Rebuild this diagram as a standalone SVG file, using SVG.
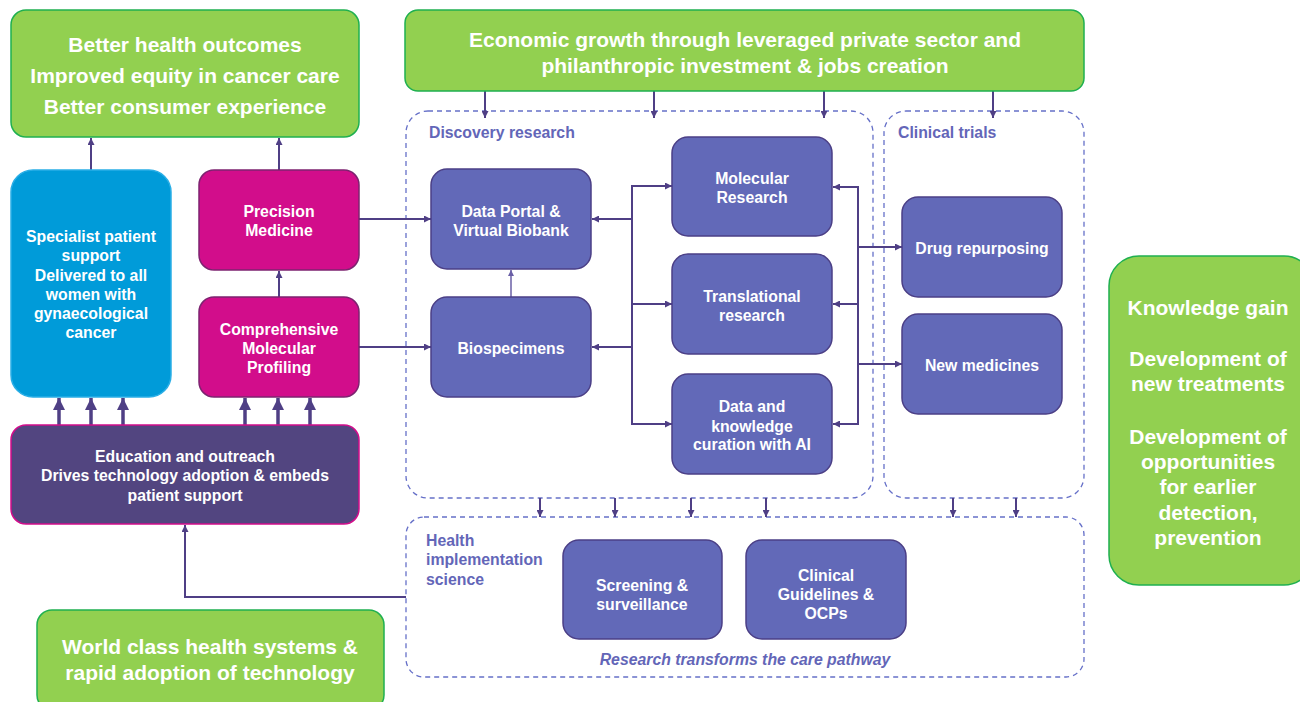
<svg xmlns="http://www.w3.org/2000/svg" width="1300" height="702" viewBox="0 0 1300 702">
  <defs>
    <style>
      .goal { fill: #92d050; stroke: #1fb050; stroke-width: 1.5; }
      .blue { fill: #009bd9; stroke: #2aaee6; stroke-width: 1.5; }
      .mag { fill: #d20d8b; stroke: #7d2370; stroke-width: 1.5; }
      .edu { fill: #524580; stroke: #d20d8b; stroke-width: 1.5; }
      .node { fill: #6269b8; stroke: #4b3f86; stroke-width: 1.5; }
      .zone { fill: none; stroke: #6670c8; stroke-width: 1.3; stroke-dasharray: 5 4; }
      .big { font-family: "Liberation Sans", Arial, sans-serif; font-weight: bold; font-size: 21px; fill: #ffffff; text-anchor: middle; }
      .txt { font-family: "Liberation Sans", Arial, sans-serif; font-weight: bold; font-size: 15.8px; fill: #ffffff; text-anchor: middle; }
      .lbl { font-family: "Liberation Sans", Arial, sans-serif; font-weight: bold; font-size: 15.8px; fill: #6366b8; }
      .lbl-i { font-family: "Liberation Sans", Arial, sans-serif; font-weight: bold; font-style: italic; font-size: 15.8px; fill: #6366b8; text-anchor: middle; }
      .wire { fill: none; stroke: #4f3f85; stroke-width: 2; }
      .thin { fill: none; stroke: #6a5fa6; stroke-width: 1.5; }
      .thick { fill: none; stroke: #4f3f85; stroke-width: 3.5; }
    </style>
    <marker id="ah" viewBox="0 0 10 10" refX="10" refY="5" markerWidth="7" markerHeight="7" markerUnits="userSpaceOnUse" orient="auto">
      <path d="M0,0 L10,5 L0,10 z" fill="#4f3f85"/>
    </marker>
    <marker id="ahs" viewBox="0 0 10 10" refX="10" refY="5" markerWidth="6" markerHeight="6" markerUnits="userSpaceOnUse" orient="auto">
      <path d="M0,0 L10,5 L0,10 z" fill="#6a5fa6"/>
    </marker>
    <marker id="ahb" viewBox="0 0 10 10" refX="10" refY="5" markerWidth="12" markerHeight="12" markerUnits="userSpaceOnUse" orient="auto">
      <path d="M0,0 L10,5 L0,10 z" fill="#4f3f85"/>
    </marker>
  </defs>

  <!-- dashed zones -->
  <g id="zones">
    <rect class="zone" x="406" y="111" width="467" height="387" rx="22"/>
    <text class="lbl" x="429" y="137.5">Discovery research</text>
    <rect class="zone" x="884" y="111" width="200" height="387" rx="22"/>
    <text class="lbl" x="898" y="137.5">Clinical trials</text>
    <rect class="zone" x="406" y="517" width="678" height="160" rx="18"/>
    <text class="lbl" x="426" y="545.5">Health</text>
    <text class="lbl" x="426" y="564.5">implementation</text>
    <text class="lbl" x="426" y="584.5">science</text>
    <text class="lbl-i" x="745" y="664.5">Research transforms the care pathway</text>
  </g>

  <!-- connectors -->
  <g id="connectors">
    <!-- outcomes -->
    <line class="wire" x1="91" y1="170" x2="91" y2="138" marker-end="url(#ah)"/>
    <line class="wire" x1="279" y1="170" x2="279" y2="138" marker-end="url(#ah)"/>
    <line class="wire" x1="279" y1="297" x2="279" y2="271" marker-end="url(#ah)"/>
    <!-- economic growth feeds -->
    <line class="wire" x1="485" y1="91" x2="485" y2="118" marker-end="url(#ah)"/>
    <line class="wire" x1="654" y1="91" x2="654" y2="118" marker-end="url(#ah)"/>
    <line class="wire" x1="824" y1="91" x2="824" y2="118" marker-end="url(#ah)"/>
    <line class="wire" x1="993" y1="91" x2="993" y2="118" marker-end="url(#ah)"/>
    <!-- education drives -->
    <line class="thick" x1="59" y1="425" x2="59" y2="398" marker-end="url(#ahb)"/>
    <line class="thick" x1="91" y1="425" x2="91" y2="398" marker-end="url(#ahb)"/>
    <line class="thick" x1="123" y1="425" x2="123" y2="398" marker-end="url(#ahb)"/>
    <line class="thick" x1="245" y1="425" x2="245" y2="398" marker-end="url(#ahb)"/>
    <line class="thick" x1="278" y1="425" x2="278" y2="398" marker-end="url(#ahb)"/>
    <line class="thick" x1="310" y1="425" x2="310" y2="398" marker-end="url(#ahb)"/>
    <!-- precision medicine / profiling into discovery -->
    <line class="wire" x1="359" y1="219" x2="431" y2="219" marker-end="url(#ah)"/>
    <line class="wire" x1="359" y1="347" x2="431" y2="347" marker-end="url(#ah)"/>
    <line class="thin" x1="511" y1="297" x2="511" y2="270" marker-end="url(#ahs)"/>
    <!-- left bus -->
    <line class="wire" x1="632" y1="186" x2="632" y2="424"/>
    <line class="wire" x1="631" y1="186" x2="672" y2="186" marker-end="url(#ah)"/>
    <line class="wire" x1="632" y1="304" x2="672" y2="304" marker-end="url(#ah)"/>
    <line class="wire" x1="631" y1="424" x2="672" y2="424" marker-end="url(#ah)"/>
    <line class="wire" x1="632" y1="219" x2="592" y2="219" marker-end="url(#ah)"/>
    <line class="wire" x1="632" y1="347" x2="592" y2="347" marker-end="url(#ah)"/>
    <!-- right bus -->
    <line class="wire" x1="858" y1="187" x2="858" y2="424"/>
    <line class="wire" x1="859" y1="187" x2="833" y2="187" marker-end="url(#ah)"/>
    <line class="wire" x1="858" y1="304" x2="833" y2="304" marker-end="url(#ah)"/>
    <line class="wire" x1="859" y1="424" x2="833" y2="424" marker-end="url(#ah)"/>
    <line class="wire" x1="858" y1="247" x2="902" y2="247" marker-end="url(#ah)"/>
    <line class="wire" x1="858" y1="364" x2="902" y2="364" marker-end="url(#ah)"/>
    <!-- research into implementation -->
    <line class="wire" x1="540" y1="498" x2="540" y2="517" marker-end="url(#ah)"/>
    <line class="wire" x1="615" y1="498" x2="615" y2="517" marker-end="url(#ah)"/>
    <line class="wire" x1="691" y1="498" x2="691" y2="517" marker-end="url(#ah)"/>
    <line class="wire" x1="766" y1="498" x2="766" y2="517" marker-end="url(#ah)"/>
    <line class="wire" x1="953" y1="498" x2="953" y2="517" marker-end="url(#ah)"/>
    <line class="wire" x1="1016" y1="498" x2="1016" y2="517" marker-end="url(#ah)"/>
    <!-- implementation back to education -->
    <polyline class="wire" points="406,597 185,597 185,525" marker-end="url(#ah)"/>
  </g>

  <!-- goal boxes -->
  <g id="goal-outcomes">
    <rect class="goal" x="11" y="10" width="348" height="127" rx="15"/>
    <text class="big" x="185" y="51.5">Better health outcomes</text>
    <text class="big" x="185" y="82.5">Improved equity in cancer care</text>
    <text class="big" x="185" y="113.5">Better consumer experience</text>
  </g>
  <g id="goal-economic">
    <rect class="goal" x="405" y="10" width="679" height="81" rx="13"/>
    <text class="big" x="745" y="46.5">Economic growth through leveraged private sector and</text>
    <text class="big" x="745" y="72.5">philanthropic investment &amp; jobs creation</text>
  </g>
  <g id="goal-health-systems">
    <rect class="goal" x="37" y="610" width="347" height="100" rx="15"/>
    <text class="big" x="210" y="653.5">World class health systems &amp;</text>
    <text class="big" x="210" y="679.5">rapid adoption of technology</text>
  </g>
  <g id="goal-knowledge">
    <rect class="goal" x="1109" y="256" width="205" height="329" rx="30"/>
    <text class="big" x="1208" y="314.5">Knowledge gain</text>
    <text class="big" x="1208" y="365.5">Development of</text>
    <text class="big" x="1208" y="390.5">new treatments</text>
    <text class="big" x="1208" y="443.5">Development of</text>
    <text class="big" x="1208" y="468.5">opportunities</text>
    <text class="big" x="1208" y="493.5">for earlier</text>
    <text class="big" x="1208" y="519.5">detection,</text>
    <text class="big" x="1208" y="544.5">prevention</text>
  </g>

  <!-- left column -->
  <g id="patient-support">
    <rect class="blue" x="11" y="170" width="160" height="227" rx="22"/>
    <text class="txt" x="91" y="241.5">Specialist patient</text>
    <text class="txt" x="91" y="260.5">support</text>
    <text class="txt" x="91" y="280.5">Delivered to all</text>
    <text class="txt" x="91" y="299.5">women with</text>
    <text class="txt" x="91" y="318.5">gynaecological</text>
    <text class="txt" x="91" y="337.5">cancer</text>
  </g>
  <g id="precision-medicine">
    <rect class="mag" x="199" y="170" width="160" height="100" rx="15"/>
    <text class="txt" x="279" y="216.5">Precision</text>
    <text class="txt" x="279" y="235.5">Medicine</text>
  </g>
  <g id="molecular-profiling">
    <rect class="mag" x="199" y="297" width="160" height="100" rx="15"/>
    <text class="txt" x="279" y="334.5">Comprehensive</text>
    <text class="txt" x="279" y="353.5">Molecular</text>
    <text class="txt" x="279" y="372.5">Profiling</text>
  </g>
  <g id="education">
    <rect class="edu" x="11" y="425" width="348" height="99" rx="15"/>
    <text class="txt" x="185" y="461.5">Education and outreach</text>
    <text class="txt" x="185" y="480.5">Drives technology adoption &amp; embeds</text>
    <text class="txt" x="185" y="500.5">patient support</text>
  </g>

  <!-- discovery research -->
  <g id="data-portal">
    <rect class="node" x="431" y="169" width="160" height="100" rx="16"/>
    <text class="txt" x="511" y="216.5">Data Portal &amp;</text>
    <text class="txt" x="511" y="235.5">Virtual Biobank</text>
  </g>
  <g id="biospecimens">
    <rect class="node" x="431" y="297" width="160" height="100" rx="16"/>
    <text class="txt" x="511" y="353.5">Biospecimens</text>
  </g>
  <g id="molecular-research">
    <rect class="node" x="672" y="137" width="160" height="99" rx="16"/>
    <text class="txt" x="752" y="183.5">Molecular</text>
    <text class="txt" x="752" y="202.5">Research</text>
  </g>
  <g id="translational-research">
    <rect class="node" x="672" y="254" width="160" height="100" rx="16"/>
    <text class="txt" x="752" y="301.5">Translational</text>
    <text class="txt" x="752" y="320.5">research</text>
  </g>
  <g id="data-curation">
    <rect class="node" x="672" y="374" width="160" height="100" rx="16"/>
    <text class="txt" x="752" y="411.5">Data and</text>
    <text class="txt" x="752" y="431.5">knowledge</text>
    <text class="txt" x="752" y="450">curation with AI</text>
  </g>

  <!-- clinical trials -->
  <g id="drug-repurposing">
    <rect class="node" x="902" y="197" width="160" height="100" rx="16"/>
    <text class="txt" x="982" y="253.5">Drug repurposing</text>
  </g>
  <g id="new-medicines">
    <rect class="node" x="902" y="314" width="160" height="100" rx="16"/>
    <text class="txt" x="982" y="370.5">New medicines</text>
  </g>

  <!-- health implementation science -->
  <g id="screening">
    <rect class="node" x="563" y="540" width="159" height="99" rx="16"/>
    <text class="txt" x="642" y="590.5">Screening &amp;</text>
    <text class="txt" x="642" y="609.5">surveillance</text>
  </g>
  <g id="guidelines">
    <rect class="node" x="746" y="540" width="160" height="99" rx="16"/>
    <text class="txt" x="826" y="580.5">Clinical</text>
    <text class="txt" x="826" y="599.5">Guidelines &amp;</text>
    <text class="txt" x="826" y="618.5">OCPs</text>
  </g>
</svg>
